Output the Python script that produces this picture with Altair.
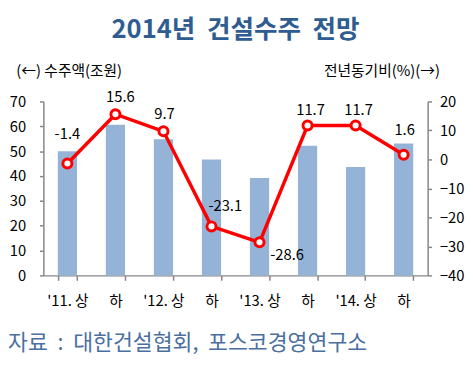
import json
import altair as alt
import pandas as pd

# ---- data ----
periods = ["'11. 상", "'11. 하", "'12. 상", "'12. 하", "'13. 상", "'13. 하", "'14. 상", "'14. 하"]
tick_labels = ["'11. 상", "하", "'12. 상", "하", "'13. 상", "하", "'14. 상", "하"]
orders = [50.0, 60.6, 54.8, 46.6, 39.2, 52.2, 43.6, 53.1]   # 수주액(조원)
yoy = [-1.4, 15.6, 9.7, -23.1, -28.6, 11.7, 11.7, 1.6]      # 전년동기비(%)
left_ticks = [0, 10, 20, 30, 40, 50, 60, 70]
right_ticks = [-40, -30, -20, -10, 0, 10, 20]

NB = "\u00a0"
title_text = f"2014년{NB}{NB}건설수주{NB}{NB}전망"
left_title = "(←) 수주액(조원)"
right_title = "전년동기비(%)(→)"
source_text = f"자료{NB}{NB}:{NB}{NB}대한건설협회,{NB}{NB}포스코경영연구소"

df = pd.DataFrame({"period": periods, "orders": orders, "yoy": yoy})
df["label"] = [f"{v:.1f}" for v in yoy]

FONT = "Noto Sans CJK KR"
GRAY = "#868686"
BAR = "#95B3D7"
RED = "#FF0000"
W, H = 391, 177

label_expr = "{}[indexof({}, datum.value)]".format(
    json.dumps(tick_labels, ensure_ascii=False), json.dumps(periods, ensure_ascii=False))

x = alt.X(
    "period:N", sort=periods,
    scale=alt.Scale(paddingInner=0.6, paddingOuter=0.3),
    axis=alt.Axis(title=None, labelExpr=label_expr, labelAngle=0, tickBand="extent",
                  domainColor=GRAY, tickColor=GRAY, tickSize=5, domainWidth=1.5, tickWidth=1.5,
                  labelPadding=14, labelFontSize=15, labelColor="black", labelFont=FONT, grid=False),
)

y_left = alt.Y(
    "orders:Q", scale=alt.Scale(domain=[0, 70], nice=False),
    axis=alt.Axis(orient="left", values=left_ticks, grid=False, domainColor=GRAY, tickColor=GRAY,
                  tickSize=4, domainWidth=1.5, tickWidth=1.5, labelPadding=14, labelFontSize=15,
                  labelColor="black", labelFont=FONT, title=left_title, titleAngle=0,
                  titleAlign="left", titleBaseline="middle", titleX=-28, titleY=-31,
                  titleFont=FONT, titleFontSize=15, titleFontWeight="normal", titleColor="black"),
)

y_right = alt.Y(
    "yoy:Q", scale=alt.Scale(domain=[-40, 20], nice=False),
    axis=alt.Axis(orient="right", values=right_ticks, grid=False, domainColor=GRAY, tickColor=GRAY,
                  tickSize=4, domainWidth=1.5, tickWidth=1.5, labelPadding=8, labelFontSize=15,
                  labelColor="black", labelFont=FONT, title=right_title, titleAngle=0,
                  titleAlign="right", titleBaseline="middle", titleX=12, titleY=-31,
                  titleFont=FONT, titleFontSize=15, titleFontWeight="normal", titleColor="black"),
)

base = alt.Chart(df)

bars = base.mark_bar(color=BAR).encode(x=x, y=y_left)

line = base.mark_line(color=RED, strokeWidth=3.5).encode(x=x, y=y_right)
points = base.mark_point(filled=True, fill="white", stroke=RED, strokeWidth=3, size=85,
                         opacity=1).encode(x=x, y=y_right)

# label placement (dx, dy) per point, as in the original
offsets = {
    "'11. 상": (0, -30), "'11. 하": (5, -17), "'12. 상": (1, -18), "'12. 하": (14, -21),
    "'13. 상": (28, 13), "'13. 하": (3, -16), "'14. 상": (3, -16), "'14. 하": (1, -25),
}
label_layers = []
for p in periods:
    dx, dy = offsets[p]
    label_layers.append(
        base.transform_filter(alt.datum.period == p)
        .mark_text(font=FONT, fontSize=15, color="black", dx=dx, dy=dy,
                   align="center", baseline="middle")
        .encode(x=x, y=y_right, text="label:N")
    )

right_layer = alt.layer(line, points, *label_layers)

source = alt.Chart(pd.DataFrame({"t": [source_text]})).mark_text(
    font=FONT, fontSize=22, color="#4A6FA0", align="left", baseline="middle"
).encode(x=alt.value(-36), y=alt.value(246), text="t:N")

chart = (
    alt.layer(bars, right_layer, source)
    .resolve_scale(y="independent")
    .properties(
        width=W, height=H,
        autosize=alt.AutoSizeParams(type="none"),
        padding={"left": 36, "top": 92, "right": 38, "bottom": 82},
        title=alt.TitleParams(title_text, font=FONT, fontSize=26, fontWeight="bold",
                              color="#2F5D91", anchor="middle", frame="group", offset=22),
    )
    .configure_view(stroke=None)
)

chart.save("out.html", embed_options={"renderer": "svg", "actions": False})
